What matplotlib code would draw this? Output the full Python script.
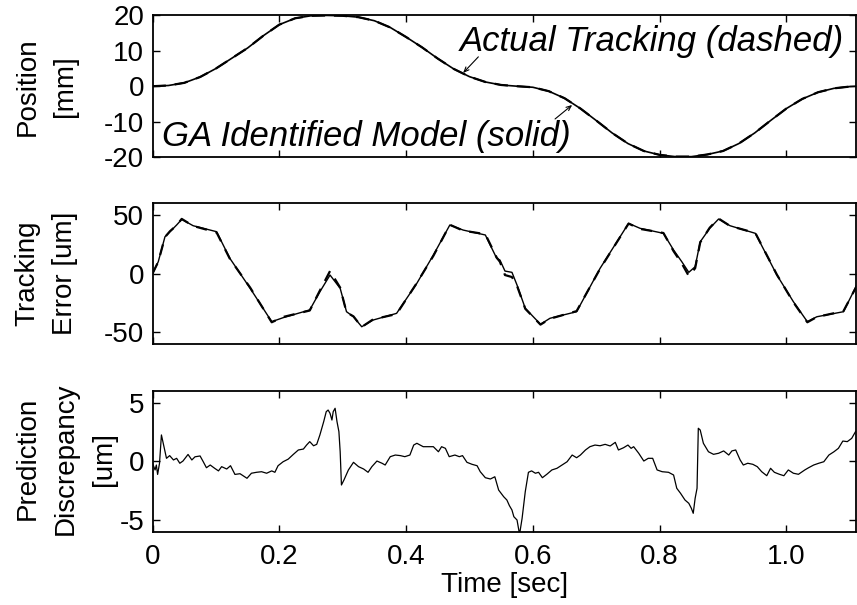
import matplotlib
matplotlib.use("Agg")
import matplotlib.pyplot as plt

plt.rcParams['font.family'] = ['Liberation Sans', 'DejaVu Sans']
plt.rcParams['axes.unicode_minus'] = False

# ---- position [mm] ----
t_pos = [0.0, 0.025, 0.05, 0.075, 0.1, 0.125, 0.15, 0.175, 0.2, 0.225,
         0.25, 0.275, 0.3, 0.325, 0.35, 0.375, 0.4, 0.425, 0.45, 0.475,
         0.5, 0.525, 0.55, 0.575, 0.6, 0.625, 0.65, 0.675, 0.7, 0.725,
         0.75, 0.775, 0.8, 0.825, 0.85, 0.875, 0.9, 0.925, 0.95, 0.975,
         1.0, 1.025, 1.05, 1.075, 1.1, 1.111]
pos_model = [0.0, 0.2, 0.95, 2.6, 5.0, 7.9, 10.8, 14.3, 17.4, 19.2,
             19.9, 20.0, 19.9, 19.5, 18.5, 16.6, 13.9, 11.0, 7.8, 4.9,
             2.7, 1.2, 0.35, 0.0, -0.3, -1.4, -3.4, -6.3, -9.7, -13.2,
             -16.2, -18.3, -19.4, -19.9, -19.9, -19.3, -18.3, -16.2, -13.2, -9.7,
             -6.3, -3.6, -1.7, -0.6, -0.1, 0.0]
pos_actual = list(pos_model)

# ---- tracking error [um] ----
t_err = [0.0, 0.009, 0.0196, 0.0275, 0.038, 0.046, 0.064, 0.101, 0.122, 0.154,
         0.188, 0.206, 0.248, 0.264, 0.28, 0.296, 0.306, 0.317, 0.33, 0.348,
         0.385, 0.417, 0.443, 0.469, 0.49, 0.525, 0.543, 0.548, 0.556, 0.567,
         0.575, 0.588, 0.612, 0.627, 0.669, 0.706, 0.751, 0.769, 0.806, 0.822,
         0.835, 0.846, 0.856, 0.864, 0.879, 0.893, 0.911, 0.951, 0.985, 1.011,
         1.033, 1.048, 1.09, 1.111]
err_model = [0.0, 10.0, 31.3, 35.6, 41.3, 46.1, 40.7, 35.6, 12.9, -12.6,
             -41.0, -37.6, -31.0, -15.5, -1.3, -12.6, -32.5, -36.8, -45.3, -39.6,
             -33.9, -8.3, 15.7, 41.3, 37.0, 32.8, 12.9, 11.5, 2.1, 1.0,
             -9.8, -29.6, -43.2, -38.1, -32.5, 4.4, 42.7, 38.5, 34.2, 20.0,
             10.0, 1.0, 5.8, 27.0, 38.5, 46.4, 40.7, 34.2, -1.3, -24.0,
             -41.0, -36.8, -32.5, -9.8]
err_actual = [0.0, 10.0, 31.0, 36.0, 41.0, 46.5, 40.5, 35.0, 12.5, -12.0,
              -41.5, -37.0, -31.5, -14.5, 2.1, -12.0, -33.0, -36.5, -45.5, -39.0,
              -34.5, -8.0, 15.0, 41.5, 36.5, 33.5, 13.5, 10.0, -1.3, -3.0,
              -10.5, -30.0, -43.5, -38.5, -32.0, 4.0, 42.5, 38.0, 34.5, 19.0,
              8.5, -2.1, 4.5, 26.5, 39.0, 46.8, 40.5, 34.5, -1.0, -24.5,
              -41.5, -37.0, -32.0, -10.5]

# ---- prediction discrepancy [um] ----
t_disc = [0.001, 0.004, 0.006, 0.008, 0.011, 0.014, 0.018, 0.022, 0.027, 0.033,
          0.038, 0.043, 0.048, 0.056, 0.062, 0.067, 0.075, 0.080, 0.085, 0.091,
          0.098, 0.104, 0.109, 0.117, 0.123, 0.130, 0.138, 0.149, 0.156, 0.164,
          0.172, 0.180, 0.188, 0.193, 0.198, 0.206, 0.214, 0.222, 0.230, 0.238,
          0.243, 0.248, 0.254, 0.259, 0.264, 0.270, 0.274, 0.277, 0.280, 0.283,
          0.285, 0.288, 0.291, 0.294, 0.296, 0.298, 0.302, 0.309, 0.317, 0.325,
          0.333, 0.340, 0.346, 0.354, 0.362, 0.367, 0.375, 0.383, 0.391, 0.398,
          0.406, 0.412, 0.417, 0.427, 0.443, 0.451, 0.456, 0.462, 0.468, 0.477,
          0.484, 0.489, 0.496, 0.504, 0.512, 0.517, 0.525, 0.533, 0.540, 0.546,
          0.554, 0.559, 0.563, 0.567, 0.570, 0.575, 0.579, 0.583, 0.588, 0.593,
          0.598, 0.604, 0.609, 0.615, 0.622, 0.630, 0.638, 0.646, 0.654, 0.662,
          0.669, 0.675, 0.683, 0.690, 0.698, 0.706, 0.714, 0.722, 0.730, 0.735,
          0.743, 0.750, 0.755, 0.759, 0.767, 0.775, 0.782, 0.789, 0.796, 0.804,
          0.814, 0.822, 0.827, 0.833, 0.840, 0.846, 0.850, 0.853, 0.856, 0.859,
          0.861, 0.864, 0.869, 0.877, 0.885, 0.893, 0.901, 0.909, 0.914, 0.920,
          0.927, 0.932, 0.939, 0.947, 0.954, 0.961, 0.969, 0.975, 0.981, 0.989,
          0.996, 1.003, 1.011, 1.019, 1.029, 1.035, 1.043, 1.051, 1.059, 1.067,
          1.075, 1.082, 1.089, 1.096, 1.103, 1.109]
disc = [-0.3, -0.72, -0.3, -1.1, -0.15, 2.26, 1.26, 0.27, 0.5, 0.13,
        0.27, -0.15, 0.04, 0.6, 0.13, 0.4, 0.47, -0.02, -0.53, -0.3,
        -0.58, -0.8, -0.44, -0.64, -0.36, -1.1, -1.04, -1.43, -1.0, -0.92,
        -0.87, -1.0, -0.8, -0.92, -0.36, -0.02, 0.2, 0.6, 0.98, 1.06,
        1.4, 1.69, 1.34, 1.46, 2.26, 3.39, 4.24, 4.38, 4.1, 3.53,
        4.24, 4.53, 3.39, 2.54, 0.83, -2.0, -1.57, -0.72, -0.07, -0.44,
        -0.64, -0.92, -0.44, 0.04, -0.15, -0.3, 0.41, 0.55, 0.5, 0.41,
        0.55, 1.4, 1.55, 1.26, 1.26, 0.83, 1.26, 1.12, 0.41, 0.55,
        0.41, 0.5, -0.07, -0.24, -0.36, -0.87, -1.38, -1.49, -1.3, -2.43,
        -3.0, -3.28, -3.76, -4.13, -4.7, -4.98, -6.2, -4.84, -2.57, -0.92,
        -0.8, -1.0, -0.92, -1.38, -1.09, -0.72, -0.58, -0.3, -0.02, 0.55,
        0.32, 0.55, 0.98, 1.26, 1.4, 1.34, 1.46, 1.32, 1.63, 0.98,
        1.17, 1.4, 1.12, 1.26, 0.7, 0.04, 0.27, 0.27, -0.72, -0.87,
        -0.92, -1.15, -2.28, -2.71, -3.28, -3.56, -3.98, -4.41, -3.13, -2.28,
        2.83, 2.68, 1.55, 0.83, 0.61, 0.7, 0.9, 0.55, 0.9, 0.98,
        0.13, -0.3, -0.15, -0.24, -0.44, -0.87, -1.21, -0.58, -0.92, -1.09,
        -1.21, -0.72, -1.0, -1.09, -0.72, -0.53, -0.3, -0.15, -0.02, 0.55,
        0.83, 1.12, 1.74, 1.69, 1.97, 2.54]

x_ticks = [0, 0.2, 0.4, 0.6, 0.8, 1.0]
x_tick_labels = ["0", "0.2", "0.4", "0.6", "0.8", "1.0"]

fig = plt.figure(figsize=(8.57, 6.05), dpi=100)
ax1 = fig.add_axes([0.178, 0.7405, 0.821, 0.234])
ax2 = fig.add_axes([0.178, 0.4314, 0.821, 0.233])
ax3 = fig.add_axes([0.178, 0.1207, 0.821, 0.233])

ax1.plot(t_pos, pos_model, color="black", lw=1.2)
ax1.plot(t_pos, pos_actual, color="black", lw=1.6, ls=(0, (6, 4)))
ax1.set_ylim(-20, 20)
ax1.set_yticks([-20, -10, 0, 10, 20])

# labels and pointer arrows
ax1.text(0.787, 12.5, "Actual Tracking (dashed)", fontsize=25, style="italic",
         ha="center", va="center")
ax1.text(0.338, -14.3, "GA Identified Model (solid)", fontsize=25, style="italic",
         ha="center", va="center")
arrow = dict(arrowstyle="->,head_length=0.35,head_width=0.15", color="black", lw=0.8,
             shrinkA=0, shrinkB=0)
ax1.annotate("", xy=(0.49, 3.75), xytext=(0.514, 8.3), arrowprops=arrow)
ax1.annotate("", xy=(0.662, -5.3), xytext=(0.635, -9.26), arrowprops=arrow)

ax2.plot(t_err, err_model, color="black", lw=1.0)
ax2.plot(t_err, err_actual, color="black", lw=1.6, ls=(0, (5, 4)))
ax2.set_ylim(-60, 60)
ax2.set_yticks([-50, 0, 50])

ax3.plot(t_disc, disc, color="black", lw=0.9)
ax3.set_ylim(-6, 6)
ax3.set_yticks([-5, 0, 5])

for ax in (ax1, ax2, ax3):
    ax.set_xlim(0, 1.11)
    ax.set_xticks(x_ticks)
    ax.tick_params(direction="in", top=True, right=True, length=5, width=1,
                   labelsize=20, pad=6)
    for s in ax.spines.values():
        s.set_linewidth(1.3)
ax1.set_xticklabels([])
ax2.set_xticklabels([])
ax3.set_xticklabels(x_tick_labels)
ax3.tick_params(axis="x", pad=9)
ax3.set_xlabel("Time [sec]", fontsize=20, labelpad=1)

ax1.set_ylabel("Position\n[mm]", fontsize=20, va="center", linespacing=1.6)
ax1.yaxis.set_label_coords(-0.151, 0.5)
ax2.set_ylabel("Tracking\nError [um]", fontsize=20, va="center", linespacing=1.6)
ax2.yaxis.set_label_coords(-0.151, 0.5)
ax3.set_ylabel("Prediction\nDiscrepancy\n[um]", fontsize=20, va="center", linespacing=1.6)
ax3.yaxis.set_label_coords(-0.123, 0.52)

fig.savefig("out.png", dpi=100)
